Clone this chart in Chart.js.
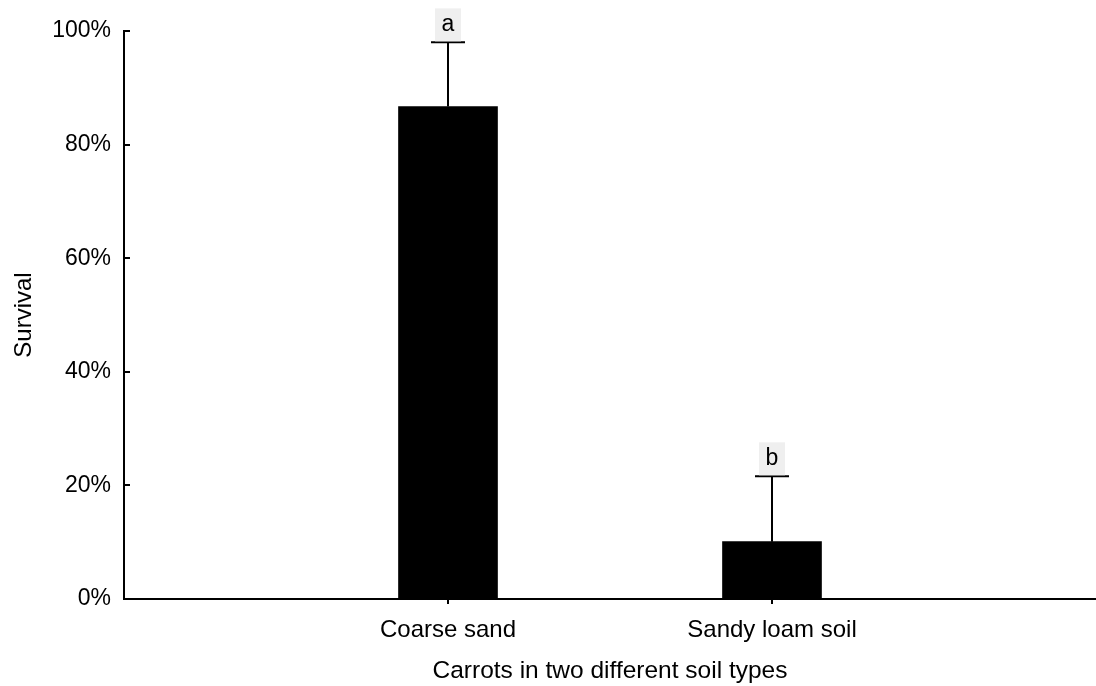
<!DOCTYPE html>
<html>
<head>
<meta charset="utf-8">
<script src="https://cdn.jsdelivr.net/npm/chart.js@4/dist/chart.umd.min.js"></script>
<style>
  html, body { margin: 0; padding: 0; background: #fff; }
  #wrap { width: 1096px; height: 686px; }
</style>
</head>
<body>
<div id="wrap"><canvas id="myChart" width="1096" height="686"></canvas></div>
<script>
// values
const categories = ['Coarse sand', 'Sandy loam soil']
const survival = [86.7, 10.1]        // bar height, %
const upper = [98.0, 21.6]           // top of error bar, %
const letters = ['a', 'b']           // significance groups
const yTicks = [0, 20, 40, 60, 80, 100]

const font = 'Liberation Sans, Arial, sans-serif'

// empty slots either side so the two bars sit at 1/3 and 2/3 of the axis
const xLabels = [''].concat(categories, [''])
const barData = [null].concat(survival, [null])

// error bars + letters
const errorBars = {
    id: 'errorBars',
    afterDatasetsDraw(chart) {
        const ctx = chart.ctx
        const y = chart.scales.y
        const meta = chart.getDatasetMeta(0)
        ctx.save()
        ctx.strokeStyle = '#000'
        ctx.lineWidth = 2
        categories.forEach((c, i) => {
            const bar = meta.data[i + 1]
            const x = bar.x
            const yb = y.getPixelForValue(survival[i])
            const yt = y.getPixelForValue(upper[i])
            ctx.beginPath()
            ctx.moveTo(x, yb)
            ctx.lineTo(x, yt)
            ctx.moveTo(x - 17, yt)
            ctx.lineTo(x + 17, yt)
            ctx.stroke()

            // letter in a grey box
            ctx.fillStyle = '#efefef'
            ctx.fillRect(x - 13, yt - 34, 26, 33)
            ctx.fillStyle = '#000'
            ctx.font = '23px ' + font
            ctx.textAlign = 'center'
            ctx.textBaseline = 'middle'
            ctx.fillText(letters[i], x, yt - 18)
        })
        ctx.restore()
    }
}

// tick marks: inward on y, downward on x
const tickMarks = {
    id: 'tickMarks',
    afterDraw(chart) {
        const ctx = chart.ctx
        const xs = chart.scales.x
        const ys = chart.scales.y
        const area = chart.chartArea
        ctx.save()
        ctx.strokeStyle = '#000'
        ctx.lineWidth = 2
        ctx.beginPath()
        yTicks.forEach(v => {
            const py = Math.round(ys.getPixelForValue(v))
            ctx.moveTo(area.left, py)
            ctx.lineTo(area.left + 6, py)
        })
        categories.forEach((c, i) => {
            const px = Math.round(xs.getPixelForValue(i + 1))
            ctx.moveTo(px, area.bottom)
            ctx.lineTo(px, area.bottom + 5)
        })
        ctx.stroke()
        ctx.restore()
    }
}

const canvas = document.getElementById('myChart')

const config = {
    type: 'bar',
    data: {
        labels: xLabels,
        datasets: [{
            data: barData,
            backgroundColor: '#000',
            borderWidth: 0,
            barThickness: 99
        }]
    },
    options: {
        responsive: false,
        animation: false,
        layout: {
            padding: {top: 31, right: 0, bottom: 0, left: 0}
        },
        plugins: {
            legend: {display: false},
            tooltip: {enabled: false}
        },
        scales: {
            x: {
                offset: false,
                grid: {display: false, drawTicks: false},
                border: {display: true, color: '#000', width: 2},
                ticks: {
                    autoSkip: false,
                    maxRotation: 0,
                    padding: 17,
                    color: '#000',
                    font: {family: font, size: 24}
                },
                title: {
                    display: true,
                    text: 'Carrots in two different soil types',
                    color: '#000',
                    font: {family: font, size: 24.5},
                    padding: {top: 0, bottom: 0}
                },
                afterFit(scale) {
                    scale.height = 87
                    scale.paddingLeft = 0
                    scale.paddingRight = 0
                }
            },
            y: {
                min: 0,
                max: 100,
                grid: {display: false, drawTicks: false},
                border: {display: true, color: '#000', width: 2},
                ticks: {
                    stepSize: 20,
                    padding: 13,
                    color: '#000',
                    font: {family: font, size: 23},
                    callback: v => v + '%'
                },
                title: {
                    display: true,
                    text: 'Survival',
                    color: '#000',
                    font: {family: font, size: 24},
                    padding: {top: 10, bottom: 0}
                },
                afterFit(scale) { scale.width = 124 }
            }
        }
    },
    plugins: [errorBars, tickMarks]
}

const myChart = new Chart(canvas, config)
</script>
</body>
</html>
